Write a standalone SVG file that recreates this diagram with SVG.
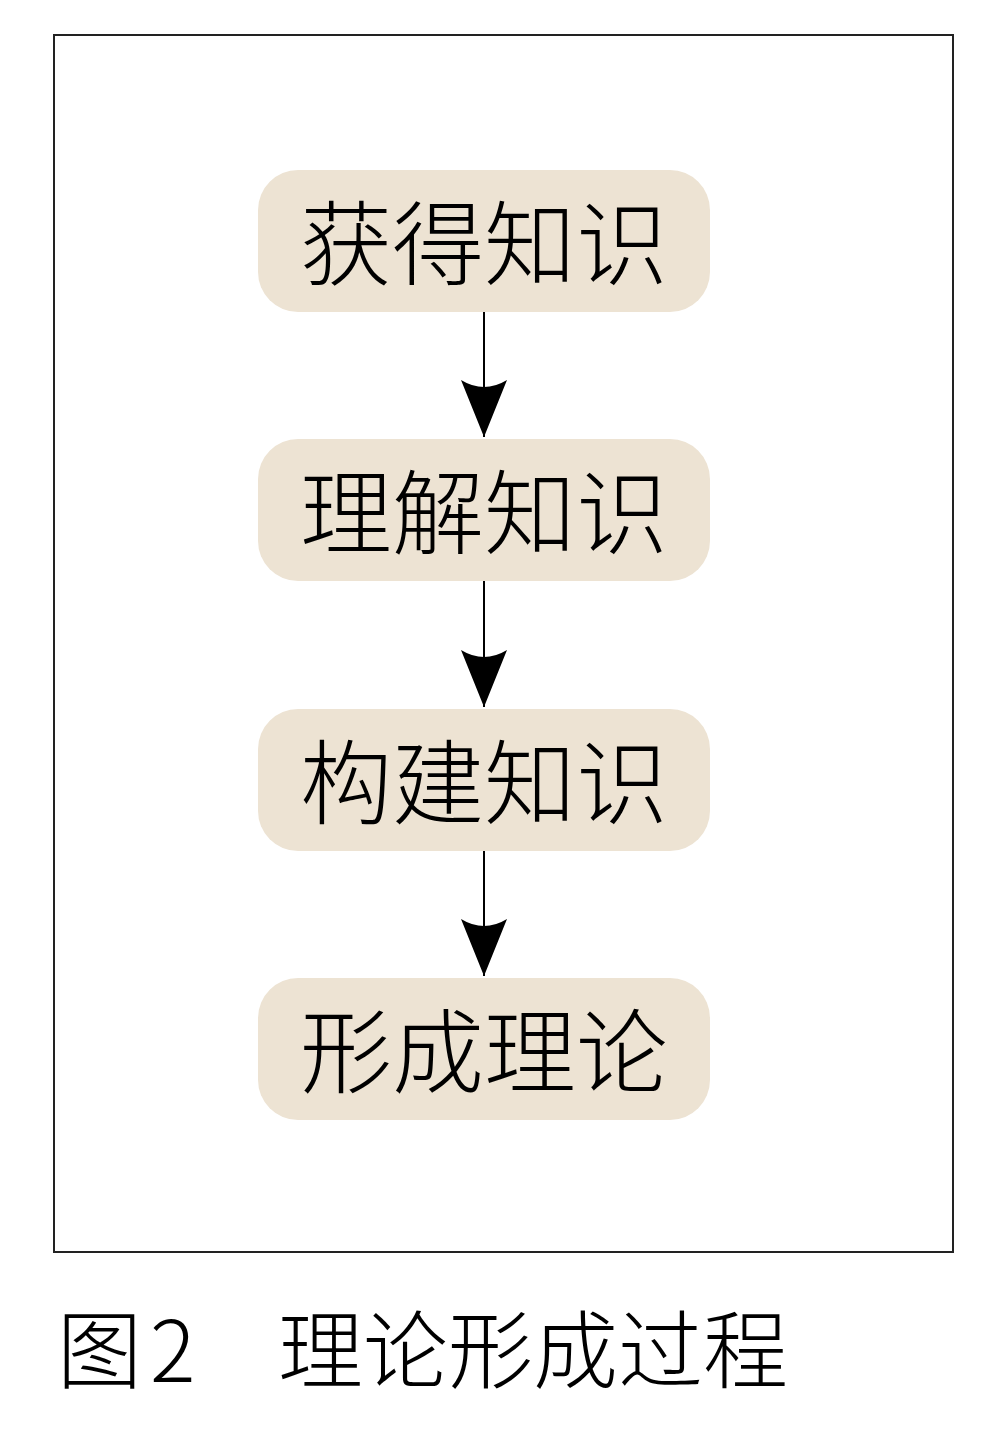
<svg xmlns="http://www.w3.org/2000/svg" width="1008" height="1446" viewBox="0 0 1008 1446">
<style>
.node rect{fill:#EDE3D3;}
.node text{font-family:"Noto Sans CJK SC","Noto Sans",sans-serif;font-size:92px;font-weight:300;fill:#000;text-anchor:middle;}
.conn line{stroke:#000;stroke-width:2;}
.cap{font-family:"Noto Sans CJK SC","Noto Sans",sans-serif;font-size:85px;font-weight:300;fill:#000;}
</style>
<defs>
<marker id="ah" viewBox="0 0 58 46" refX="57" refY="23" markerWidth="58" markerHeight="46" markerUnits="userSpaceOnUse" orient="auto">
<path d="M0,0 Q14,23 0,46 L57,23 Z" fill="#000"/>
</marker>
</defs>
<rect width="1008" height="1446" fill="#fff"/>
<rect x="54" y="35" width="899" height="1217" fill="none" stroke="#222" stroke-width="2"/>
<g id="n1" class="node"><rect x="258" y="170" width="452" height="142" rx="40"/><text x="484" y="278">获得知识</text></g>
<g id="n2" class="node"><rect x="258" y="439" width="452" height="142" rx="40"/><text x="484" y="547">理解知识</text></g>
<g id="n3" class="node"><rect x="258" y="709" width="452" height="142" rx="40"/><text x="484" y="817">构建知识</text></g>
<g id="n4" class="node"><rect x="258" y="978" width="452" height="142" rx="40"/><text x="484" y="1086">形成理论</text></g>
<g id="connectors" class="conn">
<line x1="484" y1="312" x2="484" y2="437" marker-end="url(#ah)"/>
<line x1="484" y1="581" x2="484" y2="707" marker-end="url(#ah)"/>
<line x1="484" y1="851" x2="484" y2="976" marker-end="url(#ah)"/>
</g>
<text class="cap" y="1382"><tspan x="57">图</tspan><tspan x="150">2</tspan><tspan x="278">理论形成过程</tspan></text>
</svg>
